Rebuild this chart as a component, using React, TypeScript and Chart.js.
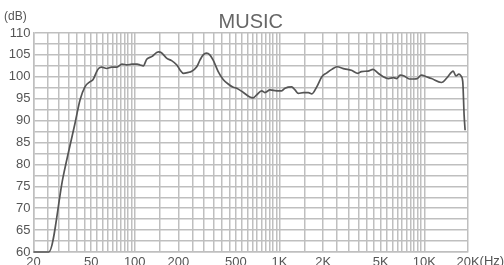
import React, { useEffect, useRef } from "react";
import { Chart, registerables } from "chart.js";

Chart.register(...registerables);

const freqs = [20, 25.5, 32, 38.7, 41.9, 45.3, 49.2, 51.6, 54.6, 56.3, 59, 64, 69.4, 75.3, 81.6, 88.4, 95.8, 103.9, 109, 114.6, 121, 130.8, 145.6, 153, 166.7, 179.6, 195.3, 206, 216.8, 234.5, 246, 268, 282, 297, 313, 330, 348, 377, 408, 444, 479, 506, 563, 623, 656, 692, 752, 792, 859, 954, 1034, 1091, 1212, 1278, 1349, 1460, 1582, 1671, 1806, 1958, 2120, 2295, 2487, 2810, 3130, 3480, 3670, 4080, 4420, 4800, 5200, 5640, 6110, 6450, 6800, 7250, 7870, 8500, 8950, 9530, 10330, 11200, 13100, 14500, 15800, 16500, 17300, 17900, 18400, 18800, 19100];
const levels = [60, 60, 77.1, 89.4, 94.7, 97.7, 98.9, 99.4, 101.2, 101.9, 102.2, 101.9, 102.2, 102.2, 102.9, 102.7, 102.9, 102.9, 102.7, 102.5, 104.0, 104.6, 105.7, 105.5, 104.2, 103.7, 102.7, 101.5, 100.8, 101.0, 101.2, 102.3, 103.8, 105.0, 105.4, 105.0, 103.8, 101.2, 99.4, 98.3, 97.6, 97.4, 96.4, 95.4, 95.2, 95.8, 96.8, 96.4, 97.0, 96.8, 96.8, 97.4, 97.7, 97.0, 96.2, 96.4, 96.4, 96.1, 97.7, 100.0, 100.9, 101.7, 102.3, 101.8, 101.5, 100.8, 101.2, 101.3, 101.7, 100.8, 100.0, 99.6, 99.8, 99.6, 100.4, 100.2, 99.5, 99.5, 99.6, 100.4, 100.0, 99.6, 98.7, 100.0, 101.3, 100.2, 100.6, 100.2, 98.9, 91.3, 87.8];

const gridFreqs = [
  20, 25, 30, 35, 40, 45, 50, 55, 60, 65, 70, 75, 80, 85, 90, 95, 100,
  150, 200, 250, 300, 350, 400, 450, 500, 550, 600, 650, 700, 750, 800, 850, 900, 950, 1000,
  1500, 2000, 2500, 3000, 3500, 4000, 4500, 5000, 5500, 6000, 6500, 7000, 7500, 8000, 8500, 9000, 9500, 10000,
  20000,
];
const xLabelValues = [20, 50, 100, 200, 500, 1000, 2000, 5000, 10000, 20000];
const xLabelTexts = ["20", "50", "100", "200", "500", "1K", "2K", "5K", "10K", "20K"];
const yGridValues = [60, 62.5, 65, 67.5, 70, 72.5, 75, 77.5, 80, 82.5, 85, 87.5, 90, 92.5, 95, 97.5, 100, 102.5, 105, 107.5, 110];
const yLabelValues = [60, 65, 70, 75, 80, 85, 90, 95, 100, 105, 110];

const FONT = "'Liberation Sans', Arial, sans-serif";
const GRID = "#bfbfbf";
const TEXT = "#555555";

const extras = {
  id: "extras",
  afterDraw(chart: any) {
    const { ctx, chartArea } = chart;
    ctx.save();
    ctx.fillStyle = "#666666";
    ctx.font = `20px ${FONT}`;
    ctx.textAlign = "center";
    ctx.textBaseline = "alphabetic";
    ctx.fillText("MUSIC", (chartArea.left + chartArea.right) / 2, 28);
    ctx.fillStyle = TEXT;
    ctx.font = `12px ${FONT}`;
    ctx.textAlign = "left";
    ctx.fillText("(dB)", 4, 20);
    ctx.font = `13px ${FONT}`;
    const w = ctx.measureText("20K").width;
    const xs = chart.scales.x;
    const px = xs.getPixelForValue(20000) + w / 2;
    ctx.textBaseline = "top";
    ctx.fillText("(Hz)", px, chartArea.bottom + 3);
    ctx.restore();
  },
};

export default function App() {
  const ref = useRef<HTMLCanvasElement>(null);
  useEffect(() => {
    if (!ref.current) return;
    const chart = new Chart(ref.current, {
      type: "line",
      data: {
        datasets: [
          {
            data: freqs.map((f, i) => ({ x: f, y: levels[i] })),
            borderColor: "#555555",
            borderWidth: 1.7,
            pointRadius: 0,
            cubicInterpolationMode: "monotone",
            fill: false,
            clip: 3,
          },
        ],
      },
      options: {
        animation: false,
        responsive: false,
        maintainAspectRatio: false,
        layout: { padding: { top: 33, right: 36, left: 0, bottom: 0 } },
        plugins: { legend: { display: false }, title: { display: false }, tooltip: { enabled: false } },
        scales: {
          x: {
            type: "logarithmic",
            min: 20,
            max: 20000,
            afterBuildTicks: (scale: any) => {
              scale.ticks = gridFreqs.map((v) => ({ value: v }));
            },
            afterFit: (scale: any) => {
              scale.height = 13;
            },
            grid: { color: GRID, lineWidth: 1.5, drawTicks: false },
            border: { color: GRID, width: 1.5 },
            ticks: {
              autoSkip: false,
              maxRotation: 0,
              padding: 3,
              color: TEXT,
              font: { family: FONT, size: 13 },
              callback: (v: any) => {
                const i = xLabelValues.indexOf(Number(v));
                return i >= 0 ? xLabelTexts[i] : "";
              },
            },
          },
          y: {
            type: "linear",
            min: 60,
            max: 110,
            afterBuildTicks: (scale: any) => {
              scale.ticks = yGridValues.map((v) => ({ value: v }));
            },
            afterFit: (scale: any) => {
              scale.width = 33.5;
            },
            grid: { color: GRID, lineWidth: 1.5, drawTicks: false },
            border: { color: GRID, width: 1.5 },
            ticks: {
              autoSkip: false,
              padding: 3,
              color: TEXT,
              font: { family: FONT, size: 13 },
              callback: (v: any) => (yLabelValues.includes(Number(v)) ? String(v) : ""),
            },
          },
        },
      },
      plugins: [extras],
    });
    return () => chart.destroy();
  }, []);
  return (
    <div style={{ position: "fixed", left: 0, top: 0, width: 504, height: 265, background: "#fff" }}>
      <canvas ref={ref} width={504} height={265} style={{ display: "block" }} />
    </div>
  );
}
